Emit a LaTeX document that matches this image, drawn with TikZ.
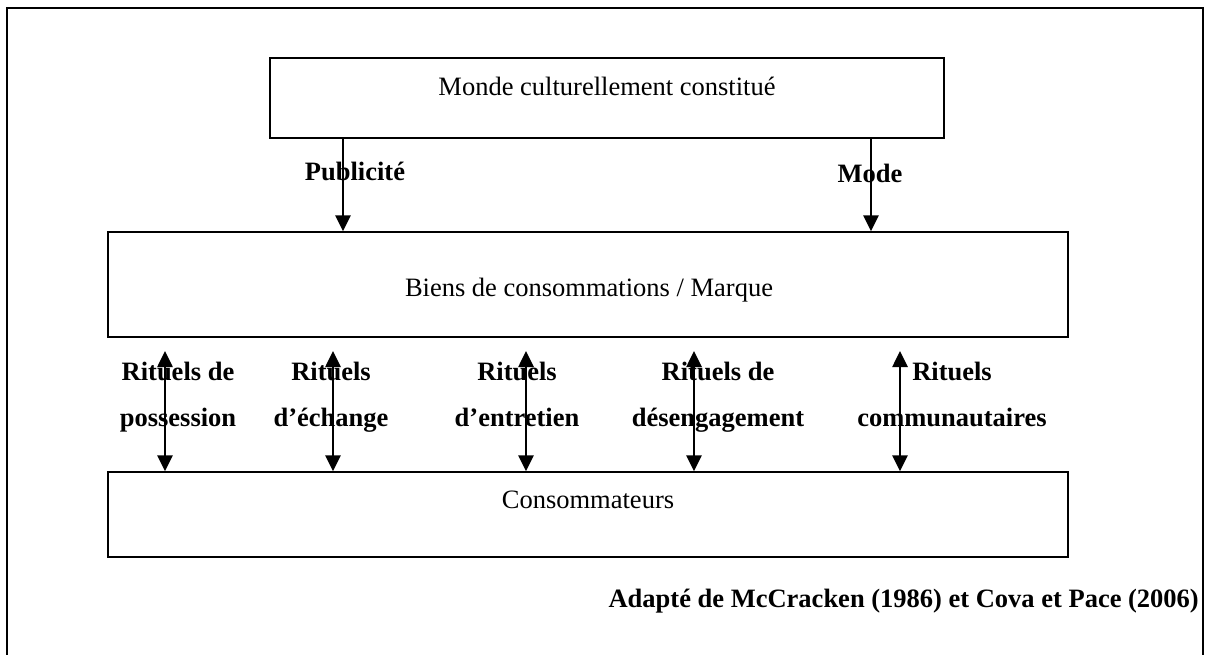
\documentclass[tikz,border=0pt]{standalone}
\usepackage{fontspec}
\setmainfont{Liberation Serif}
\usetikzlibrary{arrows.meta,calc}
\begin{document}
\begin{tikzpicture}[x=1pt,y=-1pt,
  box/.style={draw, line width=1.3pt, inner sep=0pt, rectangle},
  txt/.style={font=\fontsize{26.5}{32}\selectfont, inner sep=0pt},
  lbl/.style={font=\fontsize{26.5}{46}\selectfont\bfseries, inner sep=0pt, align=center},
  flow/.style={line width=2.6pt, -{Triangle[length=16pt,width=15pt]}},
  biflow/.style={line width=2.6pt, {Triangle[length=16pt,width=15pt]}-{Triangle[length=16pt,width=15pt]}}]
\useasboundingbox (0,0) rectangle (1208,655);
\clip (0,0) rectangle (1208,655);
% outer frame
\draw[line width=2.8pt] (7,8) rectangle (1203,700);

% the three boxes
\node[box, minimum width=674pt, minimum height=80pt] (monde) at (607,98) {};
\node[box, minimum width=960pt, minimum height=105pt] (biens) at (588,284.5) {};
\node[box, minimum width=960pt, minimum height=85pt] (conso) at (588,514.5) {};

\node[txt, anchor=base] (mondetxt) at (607,96) {Monde culturellement constitué};
\node[txt, anchor=base] (bienstxt) at (589,297) {Biens de consommations / Marque};
\node[txt, anchor=base] (consotxt) at (588,508) {Consommateurs};

% downward flows
\coordinate (pub) at (343,0);
\coordinate (mode) at (871,0);
\draw[flow] (pub |- monde.south) -- (pub |- biens.north);
\draw[flow] (mode |- monde.south) -- (mode |- biens.north);
\node[lbl, anchor=base] (publbl) at (355,181) {Publicité};
\node[lbl, anchor=base] (modelbl) at (870,183) {Mode};

% two-way rituals
\coordinate (r1) at (165,351);
\coordinate (r2) at (333,351);
\coordinate (r3) at (526,351);
\coordinate (r4) at (694,351);
\coordinate (r5) at (900,351);
\foreach \r in {r1,r2,r3,r4,r5}
  \draw[biflow] (\r) -- (\r |- conso.north);

% labels: the base anchor sits on the second line
\node[lbl, anchor=base] (l1) at (178,426) {Rituels de\\possession};
\node[lbl, anchor=base] (l2) at (331,426) {Rituels\\d’échange};
\node[lbl, anchor=base] (l3) at (517,426) {Rituels\\d’entretien};
\node[lbl, anchor=base] (l4) at (718,426) {Rituels de\\désengagement};
\node[lbl, anchor=base] (l5) at (952,426) {Rituels\\communautaires};

\node[lbl, anchor=base east] (source) at (1199,607) {Adapté de McCracken (1986) et Cova et Pace (2006)};
\end{tikzpicture}
\end{document}
